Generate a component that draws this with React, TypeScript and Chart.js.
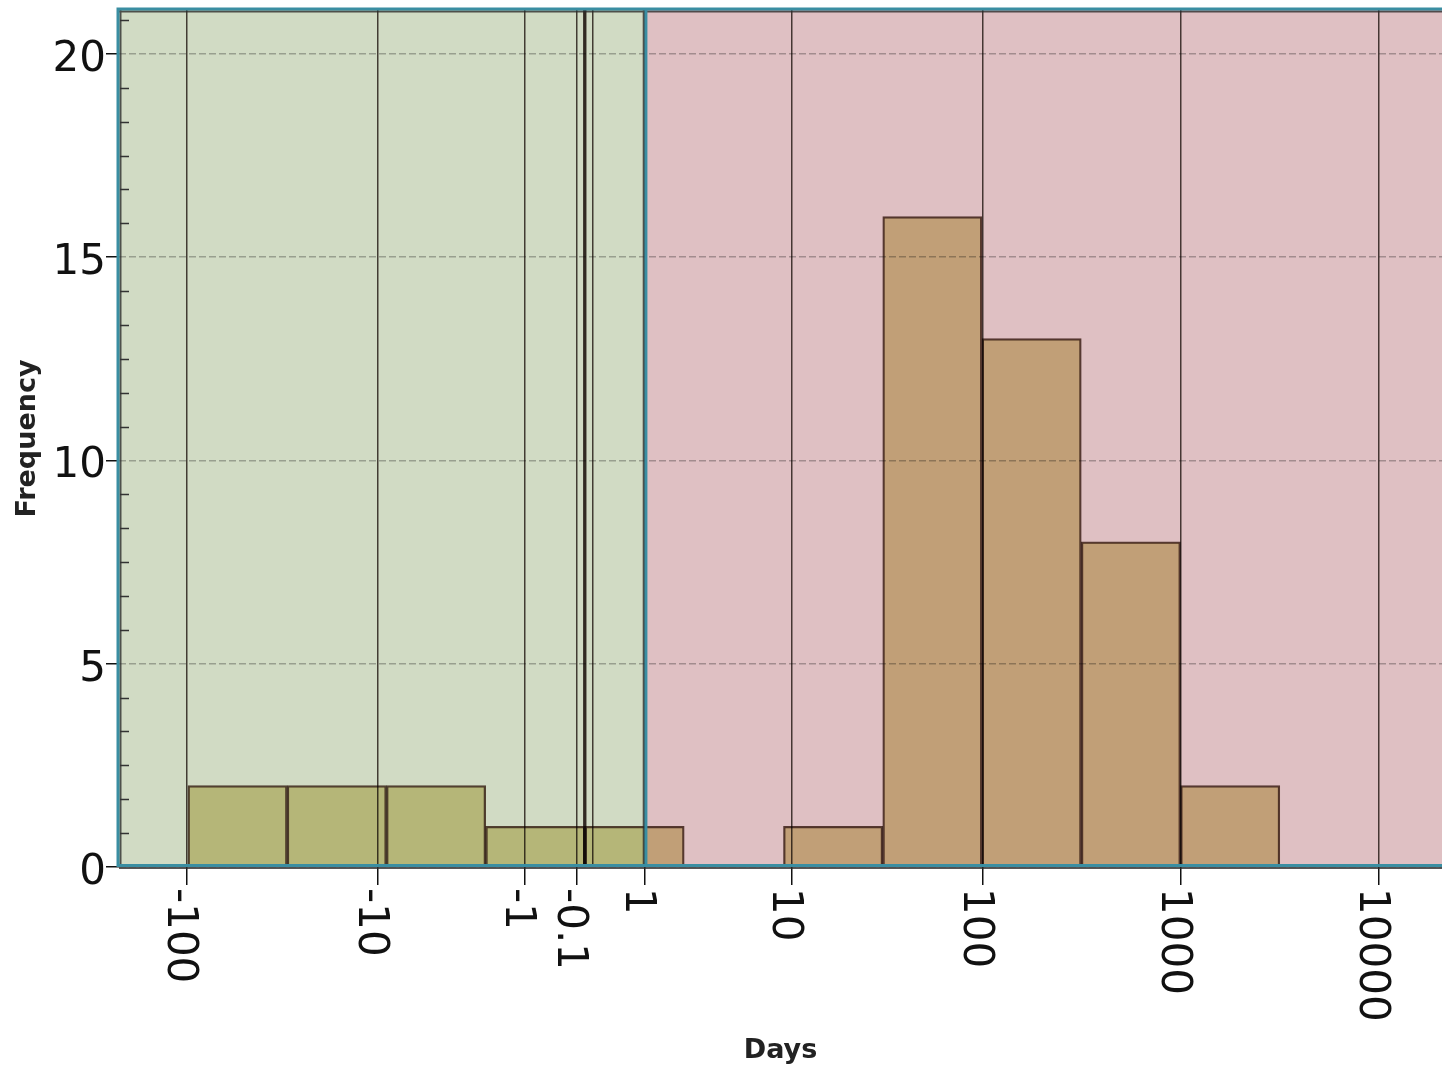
import React, { useEffect, useRef } from 'react';
import { Chart, registerables } from 'chart.js';

Chart.register(...registerables);

const FONT = '"DejaVu Sans", "Liberation Sans", sans-serif';

// Histogram bins: centres on the symmetric-log axis  t = sign(x)*log10(1+|x|), bin width 0.5
const binCenters = [-1.75, -1.25, -0.75, -0.25, 0.25, 0.75, 1.25, 1.75, 2.25, 2.75, 3.25];
const frequencies = [2, 2, 2, 1, 1, 0, 1, 16, 13, 8, 2];

// axis ticks (in days)
const xTickValues = [-100, -10, -1, -0.1, 1, 10, 100, 1000, 10000];
const xTickLabels = ['-100', '-10', '-1', '-0.1', '1', '10', '100', '1000', '10000'];
const xGridValues = [-100, -10, -1, -0.1, -0.01, 0, 0.01, 0.1, 1, 10, 100, 1000, 10000];
const yTickValues = [0, 5, 10, 15, 20];
const yMinorStep = 5 / 6;
const regionSplit = 1; // days: left region / right region boundary
const xRange = [-2.347, 4.317];
const yRange = [0, 21.08];

const GREEN_BG = '#d1dbc4';
const RED_BG = '#dfc0c3';
const BAR_FILL = 'rgb(221,212,156)';
const BAR_EDGE = 'rgb(98,74,64)';
const BLUE = '#3a8ea2';

const T = (v: number) => Math.sign(v) * Math.log10(1 + Math.abs(v));

const isLabeled = (t: number) => xTickValues.some((v) => Math.abs(T(v) - t) < 1e-9);

const decorPlugin = {
  id: 'decor',
  beforeDraw(chart: any) {
    const { ctx, chartArea: a, scales } = chart;
    const split = scales.x.getPixelForValue(T(regionSplit));
    ctx.save();
    ctx.fillStyle = '#ffffff';
    ctx.fillRect(0, 0, chart.width, chart.height);
    ctx.fillStyle = GREEN_BG;
    ctx.fillRect(a.left, a.top, split - a.left, a.bottom - a.top);
    ctx.fillStyle = RED_BG;
    ctx.fillRect(split, a.top, a.right - split, a.bottom - a.top);
    ctx.restore();
  },
  beforeDatasetsDraw(chart: any) {
    chart.ctx.save();
    chart.ctx.globalCompositeOperation = 'multiply';
  },
  afterDatasetsDraw(chart: any) {
    chart.ctx.restore();
  },
  afterDraw(chart: any) {
    const { ctx, chartArea: a, scales } = chart;
    const xs = scales.x;
    const ys = scales.y;
    const split = xs.getPixelForValue(T(regionSplit));
    ctx.save();
    // dark inner frame lines
    ctx.strokeStyle = 'rgba(45,45,45,0.8)';
    ctx.lineWidth = 2;
    ctx.beginPath();
    ctx.moveTo(a.left, a.top + 1.5);
    ctx.lineTo(a.right, a.top + 1.5);
    ctx.moveTo(a.left, a.bottom + 1);
    ctx.lineTo(a.right, a.bottom + 1);
    ctx.moveTo(a.left + 1.5, a.top);
    ctx.lineTo(a.left + 1.5, a.bottom);
    ctx.moveTo(split - 1, a.top);
    ctx.lineTo(split - 1, a.bottom);
    ctx.stroke();
    // blue selection frame
    ctx.strokeStyle = BLUE;
    ctx.lineWidth = 3;
    ctx.beginPath();
    ctx.moveTo(a.left - 1.5, a.top - 1);
    ctx.lineTo(a.right, a.top - 1);
    ctx.moveTo(a.left - 1.5, a.bottom - 1.5);
    ctx.lineTo(a.right, a.bottom - 1.5);
    ctx.moveTo(a.left - 1, a.top - 2.5);
    ctx.lineTo(a.left - 1, a.bottom);
    ctx.moveTo(split + 1.2, a.top - 2.5);
    ctx.lineTo(split + 1.2, a.bottom);
    ctx.stroke();
    // minor y ticks (inside)
    ctx.strokeStyle = '#333';
    ctx.lineWidth = 1.5;
    ctx.beginPath();
    for (let k = 1; k * yMinorStep <= yRange[1]; k++) {
      if (k % 6 === 0) continue;
      const y = Math.round(ys.getPixelForValue(k * yMinorStep)) + 0.5;
      ctx.moveTo(a.left + 1, y);
      ctx.lineTo(a.left + 10, y);
    }
    ctx.stroke();
    // rotated x tick labels (reading top to bottom)
    ctx.fillStyle = '#111';
    ctx.font = `42px ${FONT}`;
    ctx.textAlign = 'left';
    ctx.textBaseline = 'alphabetic';
    xTickValues.forEach((v, i) => {
      const px = xs.getPixelForValue(T(v));
      ctx.save();
      ctx.translate(px - 19, a.bottom + 21);
      ctx.rotate(Math.PI / 2);
      ctx.fillText(xTickLabels[i], 0, 0);
      ctx.restore();
    });
    ctx.restore();
  },
};

export default function App() {
  const ref = useRef<HTMLCanvasElement | null>(null);
  useEffect(() => {
    if (!ref.current) return;
    const chart = new Chart(ref.current, {
      type: 'bar',
      data: {
        datasets: [
          {
            data: binCenters.map((c, i) => ({ x: c, y: frequencies[i] })),
            backgroundColor: BAR_FILL,
            borderColor: BAR_EDGE,
            borderWidth: 1.6,
            borderSkipped: false,
            barThickness: 'flex',
            barPercentage: 1,
            categoryPercentage: 1,
          } as any,
        ],
      },
      options: {
        responsive: false,
        animation: false,
        events: [],
        layout: { padding: { top: 10, left: 0, right: 0, bottom: 0 }, autoPadding: false } as any,
        plugins: { legend: { display: false }, tooltip: { enabled: false } },
        scales: {
          x: {
            type: 'linear',
            min: xRange[0],
            max: xRange[1],
            offset: false,
            afterBuildTicks: (scale: any) => {
              scale.ticks = xGridValues.map((v) => ({ value: T(v) }));
            },
            afterFit: (scale: any) => {
              scale.height = 200;
              scale.paddingLeft = 0;
              scale.paddingRight = 0;
            },
            ticks: { display: false, autoSkip: false },
            grid: {
              offset: false,
              color: 'rgba(25,15,10,0.78)',
              lineWidth: 1.5,
              drawTicks: true,
              tickLength: 18,
              tickWidth: 1.5,
              tickColor: (ctx: any) => (ctx.tick && isLabeled(ctx.tick.value) ? '#111' : 'rgba(0,0,0,0)'),
            },
            border: { display: false },
            title: {
              display: true,
              text: 'Days',
              color: '#222',
              font: { family: FONT, size: 27, weight: 'bold' },
              padding: { top: 0, bottom: 0 },
            },
          },
          y: {
            type: 'linear',
            min: yRange[0],
            max: yRange[1],
            afterBuildTicks: (scale: any) => {
              scale.ticks = yTickValues.map((v) => ({ value: v }));
            },
            afterFit: (scale: any) => {
              scale.width = 119;
              scale.paddingTop = 0;
              scale.paddingBottom = 0;
            },
            ticks: {
              autoSkip: false,
              color: '#111',
              font: { family: FONT, size: 42 },
              padding: 0,
              labelOffset: 6,
              callback: (v: any) => String(v),
            },
            grid: {
              color: 'rgba(0,0,0,0.27)',
              lineWidth: 1.5,
              tickLength: 13,
              tickWidth: 1.5,
              tickColor: '#111',
              tickBorderDash: [],
            },
            border: { display: false, dash: [7, 3] },
            title: {
              display: true,
              text: 'Frequency',
              color: '#222',
              font: { family: FONT, size: 27, weight: 'bold' },
              padding: { top: 12, bottom: 0 },
            },
          },
        },
      } as any,
      plugins: [decorPlugin],
    });
    return () => chart.destroy();
  }, []);
  return (
    <div style={{ position: 'fixed', left: 0, top: 0, width: 1442, height: 1067, background: '#fff' }}>
      <canvas ref={ref} width={1442} height={1067} style={{ display: 'block', width: 1442, height: 1067 }} />
    </div>
  );
}
